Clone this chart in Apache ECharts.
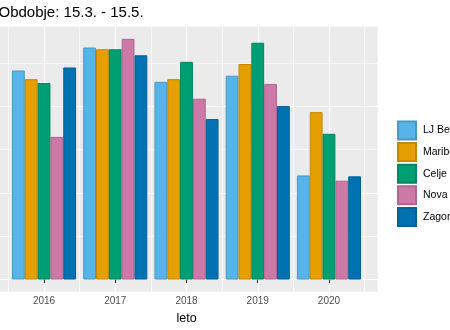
<!DOCTYPE html>
<html>
<head>
<meta charset="utf-8">
<script src="https://cdn.jsdelivr.net/npm/echarts@6/dist/echarts.min.js"></script>
<style>html,body{margin:0;padding:0;background:#fff}#c{width:450px;height:330px}</style>
</head>
<body>
<div id="c"></div>
<script>
const titleText = 'Obdobje: 15.3. - 15.5.';
const xTitle = 'leto';
const years = ['2016', '2017', '2018', '2019', '2020'];
const stations = ['LJ Bežigrad', 'Maribor', 'Celje', 'Nova Gorica', 'Zagorje'];
const colors = ['#56B4E9', '#E69F00', '#009E73', '#CC79A7', '#0072B2'];
const ljBezigrad = [48.2, 53.5, 45.6, 47.0, 24.0];
const maribor    = [46.2, 53.1, 46.2, 49.7, 38.6];
const celje      = [45.3, 53.1, 50.2, 54.6, 33.6];
const novaGorica = [32.9, 55.5, 41.7, 45.1, 22.8];
const zagorje    = [48.9, 51.7, 37.0, 40.0, 23.8];
const seriesValues = [ljBezigrad, maribor, celje, novaGorica, zagorje];

function shade(hex, f) {
  const n = parseInt(hex.slice(1), 16);
  const r = Math.round(((n >> 16) & 255) * f), g = Math.round(((n >> 8) & 255) * f), b = Math.round((n & 255) * f);
  return 'rgb(' + r + ',' + g + ',' + b + ')';
}

const chart = echarts.init(document.getElementById('c'), null, {renderer: 'canvas'});
const panel = {left: 0, right: 72.3, top: 26.7, bottom: 38.3};
const hiddenVal = (g) => ({type: 'value', gridIndex: g, show: false, min: 0, max: 1});
const noDeco = {axisLine: {show: false}, axisTick: {show: false}, axisLabel: {show: false}};

chart.setOption({
  animation: false,
  title: {
    text: titleText, left: -1.5, top: 5, padding: 0,
    textStyle: {fontFamily: 'Liberation Sans', fontSize: 15, fontWeight: 'normal', color: '#000'}
  },
  legend: {
    orient: 'vertical', left: 397, top: 120.5, padding: 0,
    itemWidth: 18, itemHeight: 18, itemGap: 1.6,
    icon: 'rect',
    data: stations,
    textStyle: {fontFamily: 'Liberation Sans', fontSize: 10.5, color: '#000', padding: [0, 0, 0, 2]}
  },
  grid: [
    Object.assign({show: true, backgroundColor: '#EBEBEB', borderWidth: 0, outerBoundsMode: 'none'}, panel),
    {left: 0, right: 72.3, top: 106.1, bottom: 50.5, outerBoundsMode: 'none'},
    {left: 0, right: 72.3, top: 62.75, bottom: 93.85, outerBoundsMode: 'none'},
    {left: 44, right: 121, top: 26.7, bottom: 38.3, outerBoundsMode: 'none'},
    {left: 8.4, right: 85.4, top: 26.7, bottom: 38.3, outerBoundsMode: 'none'}
  ],
  xAxis: [
    hiddenVal(0), hiddenVal(1), hiddenVal(2),
    Object.assign({type: 'value', gridIndex: 3, min: 0, max: 4, interval: 1,
      splitLine: {show: true, lineStyle: {color: '#FFFFFF', width: 1.2}}}, noDeco),
    {
      type: 'category', gridIndex: 4, data: years, boundaryGap: true,
      axisLine: {show: false},
      axisTick: {show: true, alignWithLabel: true, length: 3.5, lineStyle: {color: '#333333', width: 1.1}},
      axisLabel: {fontFamily: 'Liberation Sans', fontSize: 10, color: '#4D4D4D', margin: 5},
      splitLine: {show: true, lineStyle: {color: '#FFFFFF', width: 0.6}},
      name: xTitle, nameLocation: 'middle', nameGap: 18,
      nameTextStyle: {fontFamily: 'Liberation Sans', fontSize: 12.5, color: '#000'}
    }
  ],
  yAxis: [
    hiddenVal(0),
    Object.assign({type: 'value', gridIndex: 1, min: 0, max: 40, interval: 20,
      splitLine: {show: true, lineStyle: {color: '#FFFFFF', width: 1.2}}}, noDeco),
    Object.assign({type: 'value', gridIndex: 2, min: 0, max: 40, interval: 20,
      splitLine: {show: true, lineStyle: {color: '#FFFFFF', width: 0.6}}}, noDeco),
    hiddenVal(3),
    Object.assign({type: 'value', gridIndex: 4, min: -2.8, max: 58.3,
      splitLine: {show: false}}, noDeco)
  ],
  series: stations.map((name, i) => ({
    name: name, type: 'bar', xAxisIndex: 4, yAxisIndex: 4,
    data: seriesValues[i],
    barGap: '0%', barCategoryGap: '10%',
    itemStyle: {color: colors[i], borderColor: shade(colors[i], 0.85), borderWidth: 1}
  }))
});
</script>
</body>
</html>
